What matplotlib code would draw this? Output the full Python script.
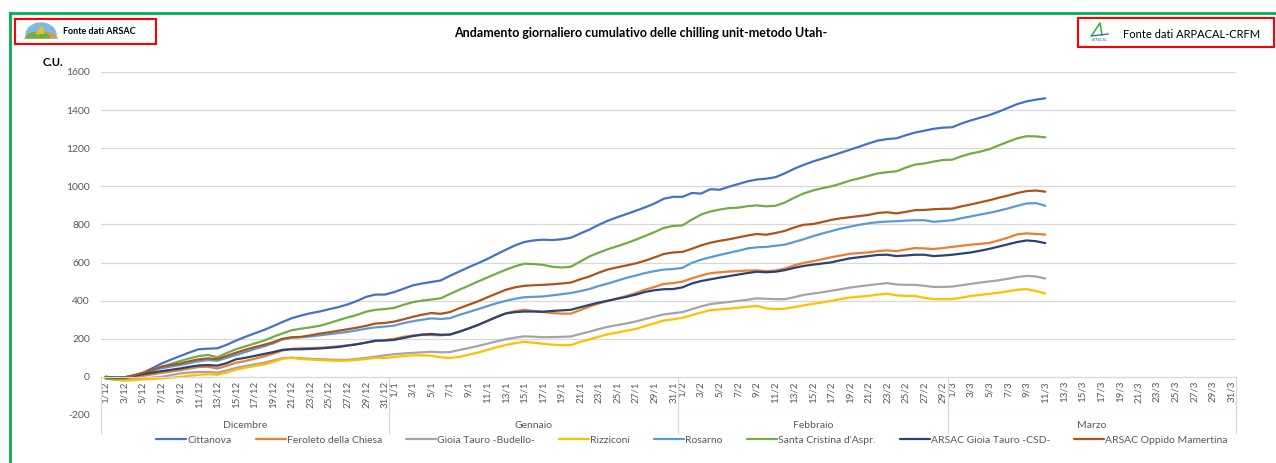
import matplotlib
matplotlib.use("Agg")
import matplotlib.pyplot as plt
from matplotlib.patches import Rectangle, Ellipse, Polygon
from matplotlib.lines import Line2D
import numpy as np

plt.rcParams['font.family'] = ['Lato', 'DejaVu Sans']
plt.rcParams['axes.unicode_minus'] = False

# CATEGORIES
months = ['Dicembre', 'Gennaio', 'Febbraio', 'Marzo']
month_num = [12, 1, 2, 3]
month_days = [31, 31, 29, 31]

series_names = ['Cittanova', 'Feroleto della Chiesa', 'Gioia Tauro -Budello-', 'Rizziconi',
                'Rosarno', "Santa Cristina d'Aspr.", 'ARSAC Gioia Tauro -CSD-', 'ARSAC Oppido Mamertina']
series_colors = ['#4472C4', '#ED7D31', '#A5A5A5', '#FFC000',
                 '#5B9BD5', '#70AD47', '#264478', '#B0531A']

# DAILY CUMULATIVE CHILL UNITS (1/12 -> 11/3)
cittanova = [0, -3, -2, 8, 21, 45, 70, 90, 109, 128,
             145, 148, 150, 168, 190, 210, 228, 246, 266, 288,
             308, 322, 334, 343, 355, 366, 380, 398, 420, 432,
             432, 445, 462, 480, 490, 498, 506, 530, 553, 575,
             596, 618, 643, 667, 690, 708, 716, 720, 718, 722,
             730, 752, 773, 798, 820, 838, 855, 872, 890, 910,
             935, 945, 945, 965, 962, 985, 982, 998, 1012, 1026,
             1036, 1040, 1048, 1068, 1092, 1112, 1130, 1145, 1160, 1176,
             1192, 1208, 1225, 1240, 1248, 1252, 1268, 1282, 1292, 1302,
             1308, 1310, 1330, 1346, 1360, 1374, 1392, 1412, 1432, 1446,
             1455, 1462]
feroleto = [-3, -6, -5, 0, 5, 13, 21, 28, 35, 44,
            52, 53, 44, 58, 74, 83, 95, 107, 122, 138,
            147, 150, 151, 153, 156, 160, 166, 172, 180, 188,
            193, 200, 210, 217, 220, 220, 218, 222, 237, 254,
            272, 293, 314, 333, 345, 352, 346, 340, 335, 332,
            332, 350, 369, 385, 399, 412, 425, 440, 458, 472,
            488, 492, 500, 517, 532, 544, 549, 553, 555, 558,
            559, 555, 558, 568, 585, 598, 607, 617, 628, 637,
            646, 650, 653, 660, 664, 660, 668, 676, 674, 671,
            676, 682, 688, 694, 698, 703, 716, 731, 748, 753,
            750, 747]
gioia_budello = [-8, -12, -14, -11, -8, -4, 0, 9, 18, 23,
                 26, 26, 22, 34, 47, 57, 66, 74, 86, 98,
                 101, 98, 95, 93, 91, 89, 90, 94, 100, 106,
                 113, 119, 123, 126, 129, 132, 129, 130, 141, 151,
                 162, 174, 186, 197, 206, 213, 211, 208, 209, 210,
                 212, 225, 237, 251, 263, 272, 281, 291, 304, 316,
                 328, 334, 340, 355, 370, 382, 388, 393, 399, 405,
                 412, 410, 408, 408, 418, 430, 437, 444, 452, 460,
                 469, 475, 481, 487, 492, 485, 483, 483, 478, 472,
                 472, 474, 481, 488, 495, 501, 507, 515, 524, 530,
                 527, 516]
rizziconi = [-8, -15, -20, -17, -14, -11, -8, -4, 0, 6,
             11, 14, 11, 22, 38, 48, 57, 65, 78, 95,
             100, 94, 91, 89, 86, 84, 85, 89, 94, 100,
             99, 104, 109, 113, 113, 111, 103, 99, 105, 116,
             127, 141, 155, 167, 177, 184, 179, 174, 169, 166,
             167, 183, 197, 211, 224, 233, 242, 252, 267, 281,
             296, 302, 310, 324, 338, 350, 354, 358, 363, 368,
             372, 360, 356, 358, 366, 375, 383, 391, 399, 408,
             417, 421, 425, 432, 436, 428, 425, 425, 415, 408,
             408, 408, 416, 425, 430, 436, 442, 449, 457, 461,
             450, 438]
rosarno = [0, -3, -4, 5, 18, 32, 45, 54, 62, 72,
           82, 88, 85, 100, 115, 130, 146, 160, 176, 196,
           206, 208, 212, 218, 224, 230, 236, 244, 253, 260,
           264, 269, 282, 292, 300, 307, 304, 308, 325, 340,
           355, 371, 386, 399, 410, 418, 420, 422, 428, 434,
           440, 450, 461, 477, 490, 505, 520, 532, 545, 555,
           563, 566, 572, 598, 615, 628, 640, 651, 662, 674,
           680, 682, 688, 694, 708, 722, 738, 752, 765, 778,
           788, 798, 806, 812, 815, 817, 820, 822, 822, 814,
           818, 822, 833, 842, 852, 861, 872, 884, 898, 910,
           912, 898]
santa_cristina = [-10, -12, -8, 2, 14, 33, 53, 68, 83, 97,
                  109, 115, 103, 125, 145, 160, 175, 190, 210, 228,
                  245, 253, 260, 268, 282, 297, 312, 325, 342, 352,
                  356, 362, 378, 392, 400, 406, 412, 435, 457, 478,
                  500, 521, 542, 562, 580, 594, 592, 588, 578, 574,
                  578, 605, 632, 652, 670, 686, 702, 720, 740, 760,
                  782, 792, 795, 825, 852, 868, 878, 886, 888, 896,
                  900, 895, 898, 915, 940, 962, 978, 990, 1000, 1014,
                  1030, 1042, 1055, 1068, 1074, 1079, 1098, 1114, 1120, 1130,
                  1138, 1140, 1158, 1172, 1182, 1195, 1215, 1234, 1252, 1263,
                  1262, 1257]
arsac_gioia_csd = [0, -4, -5, 4, 14, 22, 30, 37, 44, 53,
                   60, 62, 59, 72, 92, 100, 110, 120, 130, 142,
                   145, 145, 147, 149, 153, 157, 164, 171, 180, 190,
                   191, 194, 204, 214, 222, 225, 221, 222, 237, 254,
                   272, 293, 314, 333, 340, 343, 343, 342, 346, 349,
                   352, 365, 378, 390, 400, 410, 420, 432, 446, 455,
                   460, 461, 470, 490, 503, 512, 521, 529, 537, 545,
                   552, 549, 552, 560, 572, 582, 589, 595, 601, 612,
                   622, 628, 634, 640, 641, 634, 637, 641, 641, 634,
                   637, 641, 647, 653, 662, 672, 684, 696, 708, 716,
                   712, 702]
arsac_oppido = [0, -4, -3, 8, 21, 37, 53, 62, 70, 82,
                92, 97, 93, 110, 127, 142, 156, 168, 182, 200,
                208, 210, 218, 227, 234, 242, 250, 258, 268, 280,
                283, 290, 302, 315, 326, 335, 331, 340, 360, 378,
                396, 417, 437, 457, 470, 478, 481, 483, 486, 490,
                495, 512, 527, 547, 564, 575, 585, 596, 610, 627,
                645, 653, 656, 672, 690, 704, 714, 722, 732, 742,
                750, 746, 755, 766, 784, 798, 802, 812, 824, 832,
                838, 844, 850, 860, 864, 858, 866, 875, 876, 880,
                882, 883, 895, 905, 916, 927, 940, 952, 965, 975,
                978, 972]

all_series = [cittanova, feroleto, gioia_budello, rizziconi,
              rosarno, santa_cristina, arsac_gioia_csd, arsac_oppido]

# day labels d/m for the whole season
day_labels = []
for m, n in zip(month_num, month_days):
    for d in range(1, n + 1):
        day_labels.append(f"{d}/{m}")
n_cat = len(day_labels)

W, H = 1276, 463
fig = plt.figure(figsize=(W / 100, H / 100), dpi=100)
ax = fig.add_axes([101 / W, 1 - 415 / H, 1135 / W, 343 / H])

grid_col = '#D9D9D9'
text_col = '#595959'

for name, vals, col in zip(series_names, all_series, series_colors):
    ax.plot(range(len(vals)), vals, color=col, lw=1.6, label=name, solid_capstyle='round')

ax.set_xlim(-0.5, n_cat - 0.5)
ax.set_ylim(-200, 1600)
ax.set_yticks(range(-200, 1601, 200))
ax.yaxis.grid(True, color=grid_col, lw=0.9)
ax.set_axisbelow(True)
for s in ['top', 'right', 'left']:
    ax.spines[s].set_visible(False)
ax.spines['bottom'].set_position(('data', 0))
ax.spines['bottom'].set_color(grid_col)

tick_idx = [i for i, l in enumerate(day_labels) if int(l.split('/')[0]) % 2 == 1]
ax.set_xticks(tick_idx)
ax.set_xticklabels([day_labels[i] for i in tick_idx], rotation=90, fontsize=7, color=text_col)
ax.tick_params(axis='x', length=0, pad=3)
ax.tick_params(axis='y', length=0, pad=8, labelsize=7.5, labelcolor=text_col)

# month level of the category axis
bounds = [-0.5]
for n in month_days:
    bounds.append(bounds[-1] + n)
for b in bounds:
    ax.plot([b, b], [0, -295], color=grid_col, lw=0.9, clip_on=False)
for i, m in enumerate(months):
    ax.text((bounds[i] + bounds[i + 1]) / 2, -255, m, ha='center', va='center',
            fontsize=7.5, color=text_col, clip_on=False)

fig.legend(loc='center', bbox_to_anchor=(692 / W, 1 - 440 / H), ncol=8, frameon=False,
           fontsize=7.5, handlelength=2.9, handletextpad=0.1, columnspacing=2.3,
           labelcolor=text_col)

# titles and labels
fig.text(641 / W, 1 - 33 / H, 'Andamento giornaliero cumulativo delle chilling unit-metodo Utah-',
         ha='center', va='center', fontsize=9, fontweight='bold', color='black')
fig.text(43 / W, 1 - 62 / H, 'C.U.', ha='left', va='center', fontsize=8, fontweight='bold')

# outer green frame
fig.add_artist(Line2D([10 / W, 1.0], [1 - 13 / H, 1 - 13 / H], color='#00B050', lw=2, transform=fig.transFigure))
fig.add_artist(Line2D([10 / W, 10 / W], [1 - 13 / H, 0], color='#00B050', lw=2, transform=fig.transFigure))

# source boxes
fig.add_artist(Rectangle((15 / W, 1 - 44 / H), 141 / W, 25 / H, fill=False, ec='#FF0000', lw=1.5,
                         transform=fig.transFigure))
fig.text(63 / W, 1 - 32 / H, 'Fonte dati ARSAC', ha='left', va='center', fontsize=6.5, fontweight='bold')
fig.add_artist(Rectangle((1078 / W, 1 - 47 / H), 196 / W, 29 / H, fill=False, ec='#FF0000', lw=1.5,
                         transform=fig.transFigure))
fig.text(1123 / W, 1 - 35 / H, 'Fonte dati ARPACAL-CRFM', ha='left', va='center', fontsize=8)

# ARSAC logo
lax = fig.add_axes([24 / W, 1 - 43 / H, 34 / W, 21 / H])
lax.set_xlim(0, 34)
lax.set_ylim(0, 21)
lax.axis('off')
lax.add_patch(Ellipse((17, 8), 30, 24, color='#7FB8E0'))
lax.add_patch(Ellipse((17, 4), 32, 14, color='#C9A24A'))
lax.add_patch(Ellipse((14, 6), 22, 9, color='#6FAF3A'))
lax.add_patch(Polygon([[12, 9], [18, 17], [20, 10]], color='#E0C23A'))
lax.add_patch(Rectangle((0, 0), 34, 4, color='white'))

# ARPACAL logo
rax = fig.add_axes([1088 / W, 1 - 42 / H, 24 / W, 21 / H])
rax.set_xlim(0, 24)
rax.set_ylim(0, 21)
rax.axis('off')
rax.plot([4, 12, 14], [7, 19, 7], color='#3CB44B', lw=1.2)
rax.plot([3, 20], [6, 8], color='#3A6FB0', lw=1)
rax.text(12, 2, 'ARPACAL', ha='center', va='center', fontsize=2.5, color='#3A6FB0')

fig.savefig('out.png', dpi=100, facecolor='white')
